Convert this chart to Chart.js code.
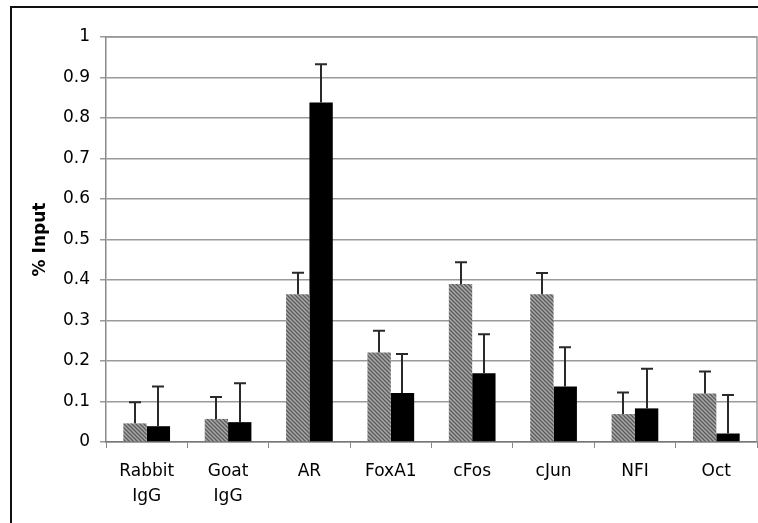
<!DOCTYPE html>
<html>
<head>
<meta charset="utf-8">
<script src="https://cdn.jsdelivr.net/npm/chart.js@4/dist/chart.umd.min.js"></script>
<style>
    html, body { margin: 0; padding: 0; background: #fff; overflow: hidden; }
    #frame {
        position: absolute; left: 10px; top: 6px; width: 800px; height: 600px;
        border-left: 2px solid #111; border-top: 2px solid #111;
    }
    #chart-input { position: absolute; left: 0; top: 0; }
</style>
</head>
<body>
<div id="frame"></div>
<canvas id="chart-input" width="758" height="523"></canvas>
<script>
// data
const categories = [["Rabbit", "IgG"], ["Goat", "IgG"], "AR", "FoxA1", "cFos", "cJun", "NFI", "Oct"];
const hatchedValues = [0.046, 0.057, 0.365, 0.221, 0.390, 0.365, 0.069, 0.120];
const hatchedErrors = [0.052, 0.054, 0.053, 0.054, 0.054, 0.052, 0.053, 0.054];
const blackValues = [0.039, 0.049, 0.838, 0.121, 0.170, 0.137, 0.083, 0.021];
const blackErrors = [0.098, 0.096, 0.095, 0.096, 0.096, 0.097, 0.098, 0.095];
const yTicks = [0, 0.1, 0.2, 0.3, 0.4, 0.5, 0.6, 0.7, 0.8, 0.9, 1];

// diagonal hatch fill
function makeHatch() {
    const c = document.createElement("canvas");
    c.width = 4;
    c.height = 4;
    const g = c.getContext("2d");
    g.fillStyle = "#a8a8a8";
    g.fillRect(0, 0, 4, 4);
    g.strokeStyle = "#5a5a5a";
    g.lineWidth = 1.3;
    g.beginPath();
    g.moveTo(-1, -1); g.lineTo(5, 5);
    g.moveTo(-1, 3); g.lineTo(1, 5);
    g.moveTo(3, -1); g.lineTo(5, 1);
    g.stroke();
    return g.createPattern(c, "repeat");
}

// upper error bars
const errorBars = {
    id: "errorBars",
    afterDatasetsDraw(chart) {
        const ctx = chart.ctx;
        const yScale = chart.scales.y;
        ctx.save();
        ctx.strokeStyle = "#2a2a2a";
        ctx.lineWidth = 2;
        chart.data.datasets.forEach((ds, i) => {
            const meta = chart.getDatasetMeta(i);
            meta.data.forEach((bar, j) => {
                const top = yScale.getPixelForValue(ds.data[j] + ds.errors[j]);
                const x = Math.round(bar.x);
                ctx.beginPath();
                ctx.moveTo(x, bar.y);
                ctx.lineTo(x, top);
                ctx.moveTo(x - 6, top);
                ctx.lineTo(x + 6, top);
                ctx.stroke();
            });
        });
        ctx.restore();
    }
};

// grey box round the plot area
const plotBorder = {
    id: "plotBorder",
    beforeDatasetsDraw(chart) {
        const { ctx, chartArea } = chart;
        ctx.save();
        ctx.strokeStyle = "#999";
        ctx.lineWidth = 1.5;
        ctx.beginPath();
        ctx.moveTo(chartArea.left, chartArea.top);
        ctx.lineTo(chartArea.right, chartArea.top);
        ctx.lineTo(chartArea.right, chartArea.bottom);
        ctx.stroke();
        ctx.restore();
    }
};

const fontFamily = "'DejaVu Sans', Verdana, sans-serif";

const dataInput = {
    labels: categories,
    datasets: [
        {
            label: "hatched",
            data: hatchedValues,
            errors: hatchedErrors,
            backgroundColor: makeHatch(),
            borderWidth: 0,
            categoryPercentage: 0.574,
            barPercentage: 1.0,
        },
        {
            label: "black",
            data: blackValues,
            errors: blackErrors,
            backgroundColor: "#000",
            borderWidth: 0,
            categoryPercentage: 0.574,
            barPercentage: 1.0,
        },
    ],
};

const configInput = {
    type: "bar",
    data: dataInput,
    options: {
        responsive: false,
        animation: false,
        devicePixelRatio: 1,
        layout: {
            padding: { left: 0, right: 1, top: 37, bottom: 0 },
        },
        plugins: {
            legend: { display: false },
            tooltip: { enabled: false },
        },
        scales: {
            y: {
                min: 0,
                max: 1,
                afterBuildTicks: function (scale) {
                    scale.ticks = yTicks.map(v => ({ value: v }));
                },
                afterFit: function (scale) {
                    scale.width = 106;
                },
                border: { color: "#888", width: 1.5 },
                grid: { color: "#9a9a9a", lineWidth: 1.5, tickLength: 6 },
                ticks: {
                    color: "#000",
                    padding: 10,
                    font: { family: fontFamily, size: 17 },
                    callback: function (value) {
                        return value === 0 || value === 1 ? String(value) : value.toFixed(1);
                    },
                },
                title: {
                    display: true,
                    text: "% Input",
                    color: "#000",
                    padding: { top: 30, bottom: 0 },
                    font: { family: fontFamily, size: 17, weight: "bold" },
                },
            },
            x: {
                afterFit: function (scale) {
                    scale.height = 81;
                },
                border: { color: "#777", width: 1.5 },
                grid: { display: true, drawOnChartArea: false, color: "#888", tickLength: 6, offset: true },
                ticks: {
                    color: "#000",
                    padding: 11,
                    maxRotation: 0,
                    autoSkip: false,
                    font: { family: fontFamily, size: 17, lineHeight: 25 / 17 },
                },
            },
        },
    },
    plugins: [plotBorder, errorBars],
};

// render
const ctxInput = document.getElementById("chart-input");
new Chart(ctxInput, configInput);
</script>
</body>
</html>
